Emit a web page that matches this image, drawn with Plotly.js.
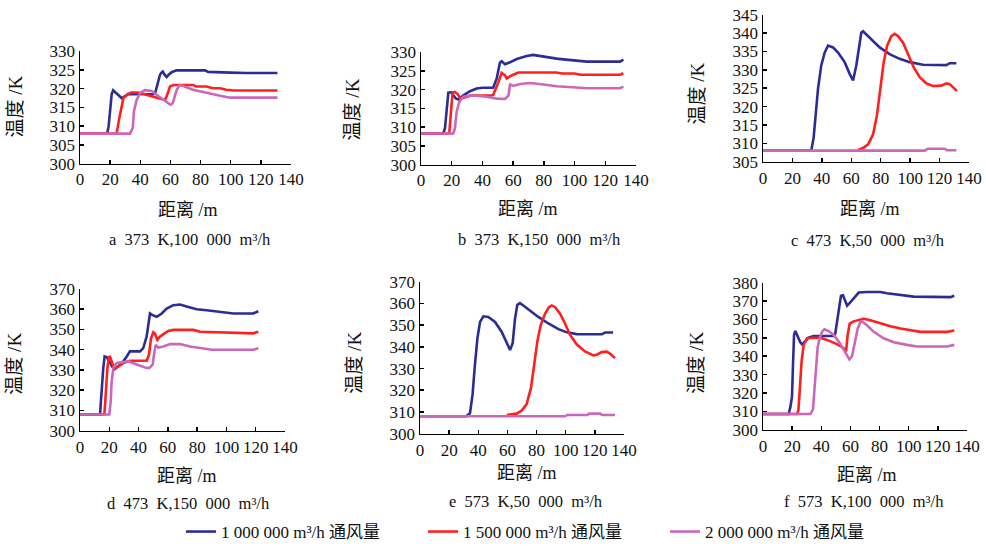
<!DOCTYPE html>
<html>
<head>
<meta charset="utf-8">
<script src="https://cdn.plot.ly/plotly-3.0.1.min.js"></script>
<style>html,body{margin:0;padding:0;background:#fff;}#chart{width:986px;height:550px;}</style>
</head>
<body>
<div id="chart"></div>
<script>
// ---------- data (distance m, temperature K) ----------
var seriesNames = ["1 000 000 m³/h 通风量", "1 500 000 m³/h 通风量", "2 000 000 m³/h 通风量"];
var panelLabels = ["a 373 K,100 000 m³/h", "b 373 K,150 000 m³/h", "c 473 K,50 000 m³/h",
                   "d 473 K,150 000 m³/h", "e 573 K,50 000 m³/h", "f 573 K,100 000 m³/h"];
var xTickVals = [0, 20, 40, 60, 80, 100, 120, 140];

// panel a
var aBlueX = [0,18,19,20,21,22,23,25,27.6,30,32,35,40,45,49,50,51,52,53,53.8,54.9,56,57.5,59,60.8,64,70,83,85,95,100,110,120,131];
var aBlueY = [308,308,310,315,318.5,319.6,319.2,318.3,317.5,318,318.6,318.5,318.5,318.4,318.6,319,320.5,322.3,323.6,324.2,324.6,323.8,323.1,323.8,324.4,324.9,324.9,324.9,324.5,324.5,324.3,324.2,324.2,324.2];
var aRedX = [0,24.3,26,28.8,31,34,37,40,44,48,51,54,56.4,58,59.7,62,70,75,77,84,88,93,97,102,115,131];
var aRedY = [308,308,312,317.5,318.3,319,319,318.9,318.4,318,317.7,317.3,317,318.5,320.6,321,321,321,320.6,320.6,320.1,320.1,319.7,319.5,319.5,319.5];
var aMagX = [0,33.2,35,35.8,37.6,39.8,43,47.6,51,55.3,58.6,60,61.5,63,64.2,66,68.6,75,84,93,99.6,110,131];
var aMagY = [308,308,309.5,314,317,318.8,319.6,319.4,318.3,317,316.1,315.7,316.1,318,319.7,321,320.7,319.7,318.8,318.1,317.6,317.6,317.6];

// panel b
var bBlueX = [0,14.5,15.6,16.7,17.8,20,21,22.8,24.3,27.6,31.9,36.2,40,47,49.3,51.4,52.5,54.7,58,62.3,68.8,73,77.5,81.8,88.3,92.7,101,108,129.6,131.8];
var bBlueY = [308.3,308.3,309.7,315,319.2,319.3,318.5,317.6,317.4,318.5,319.6,320.3,320.5,320.5,323,327.2,327.6,326.8,327.3,328.2,329,329.3,329,328.6,328.3,328.1,327.8,327.5,327.5,328];
var bRedX = [0,18.4,19.5,20.6,22,23.7,25.8,29.7,32,45,47,50.4,52.5,54.7,55.8,59,63.4,88,92,100,104,129.6,131.8];
var bRedY = [308.3,308.3,314,319.2,319.4,318.9,317.6,318,318.4,318.4,318.6,322,324.5,323.8,323,323.8,324.6,324.6,324.3,324.3,324,324,324.4];
var bMagX = [0,21,22.1,23.2,25,27.6,31.9,36,42.8,49.3,54.7,57,58,60,64.5,71,79.7,88.3,101,108,129.6,131.8];
var bMagY = [308.3,308.3,309.7,314.1,316.8,318.1,318.4,318.4,318.1,317.6,317.5,318.5,321.4,321,321.5,321.8,321.4,320.9,320.6,320.4,320.4,320.8];

// panel c
var cBlueX = [0,32.8,34.4,35.8,37.4,39.6,41.9,44.2,47.6,51,55.5,58.9,61.2,63.4,65.2,66.8,68,70.2,74.8,79.3,86,92.9,99.7,108.7,124.6,126.9,131.4];
var cBlueY = [308,308,311.5,317.8,324.9,331.2,334.7,336.6,336.1,334.7,332.1,328.9,327.1,331.2,336.5,340.1,340.5,339.6,337.9,336.1,334.3,333,332.1,331.4,331.3,331.8,331.8];
var cRedX = [64.6,68,71.4,74.8,77.5,79.7,82,84.3,87.2,89.5,91.8,95.2,98.6,102.4,106.5,111,115.5,121.2,124.6,126.9,130.3,131.9];
var cRedY = [308.2,308.7,309.7,312.4,317.8,324.9,332,336.5,339.2,339.8,339.2,337.4,334.3,330.7,328,326.3,325.6,325.7,326.3,326.1,324.8,324.2];
var cMagX = [0,110,112,123.5,125,131.4];
var cMagY = [308,308,308.5,308.5,308.1,308.1];

// panel d
var dBlueX = [0,13.7,14.3,15,15.9,16.8,18.2,19.3,21.2,23.2,26.2,29.6,31.9,34.1,41,43.2,45.5,46.7,47.8,49.6,52.4,55.8,59.2,63.7,68.3,74,79.7,86.5,95.6,104.7,118.4,121.8];
var dBlueY = [308,308,314.7,322.8,330.9,336.6,336.3,335,332.6,330.1,331.7,334.2,336.6,339.1,339.1,340.7,346.4,353.7,357.8,357,356.2,357.8,360.2,361.9,362.2,361,359.9,359.4,358.6,357.8,357.8,358.9];
var dRedX = [0,16.6,17.3,17.8,18.7,19.8,20.5,21.6,22.8,23.9,26.2,29.6,34.1,45.5,47.1,48.5,50.1,51.2,52.8,54.6,57.4,60.3,63.7,77.4,82,93.3,104.7,118.4,121.8];
var dRedY = [308,308,314.7,322.8,330.9,336.3,336.4,334.2,331.7,330.9,331.7,333.4,334.5,334.5,337.4,345.5,348.5,347.8,344.8,346.4,348,349.2,349.7,349.7,348.8,348.5,348,348,348.8];
var dMagX = [0,20,21,21.6,22.8,25,29.6,33,38.7,45.5,47.3,49.6,50.5,51.7,53.5,56.9,61.5,68.3,75.1,82,90,118.4,121.8];
var dMagY = [308,308,314.7,324.4,330.9,333.4,333.9,334.2,332.6,330.9,330.9,332.6,337.4,342.3,341,341.5,342.7,342.7,341.5,340.7,339.9,339.9,340.7];

// panel e
var eBlueX = [0,31.6,34.3,36.1,37.7,39.4,41.2,43.5,46.9,51.5,56,59.5,61.8,63.6,65.2,66.8,68.6,70.9,75.5,81.2,88.1,95,100.7,107.5,124.7,127,132.5];
var eBlueY = [308,308,309.4,318.2,331.8,343.9,351.5,354.1,353.8,351.5,347,341.7,338.6,341.7,353,359.4,360.2,359.1,356.8,353.8,350.8,348.2,346.7,345.9,345.8,346.6,346.6];
var eRedX = [59.5,66.3,69.8,73.2,76.2,78.2,80.5,82.8,85.8,88.5,90.4,92.7,96.1,99.5,103,107.5,113.2,119,121.3,124.7,128.1,130.4,133.8];
var eRedY = [308.6,309.2,310.6,313.6,321.2,331.8,342.4,350,355.3,358.3,359.1,358.3,355.3,350.8,345.5,341.2,337.9,336.1,336.4,337.6,337.8,336.9,334.8];
var eMagX = [0,99.5,101,115,116,123.5,125,133.8];
var eMagY = [308,308,308.6,308.6,309.2,309.2,308.6,308.6];

// panel f
var fBlueX = [0,17.6,18.8,19.9,20.6,21.3,22.2,23.3,25.6,26.8,29,31.3,34.8,48.5,49.6,51.9,53.5,54.9,56.5,57.7,59.9,63.4,65.7,71.4,80.5,85.1,94.3,103.4,128.6,131.3];
var fBlueY = [308.5,308.5,312.4,317.8,335.6,351.6,353.8,351.6,347.6,346.5,348,350.1,351,351,352.4,364,372.9,373.2,370.2,367.6,369.3,372.9,374.7,375,375,374.3,373.4,372.5,372.2,372.9];
var fRedX = [0,23.3,24.3,25.2,26.5,27.9,30.2,34.8,39.4,43.9,50.8,55.4,57,58.1,59.5,62.2,66.8,69.1,73.7,80.5,87.4,94.3,101.1,108,126.3,131.3];
var fRedY = [308.5,308.5,310.5,323.1,337.3,346.2,349.8,350.1,350.1,348.9,346.6,344.4,342.7,351.6,357.8,359,359.9,360.4,359.6,357.8,356.4,355.1,354.2,353.3,353.3,354];
var fMagX = [0,32.5,34.3,35.2,36.4,37.5,38.9,40.5,42.1,45.1,48.5,51.9,55.4,57.7,59.3,61.1,63.4,65,66.8,67.9,71.4,76,82.8,89.7,98.8,105.7,126.3,131.3];
var fMagY = [308.5,308.5,311,319.9,334.2,344.9,349.8,353.3,354.7,353.7,351.6,348,343.6,340,338.2,340,348,355.1,358.7,359,356.9,353.3,349.8,347.6,346.2,345.3,345.3,346.2];

var yRanges = [[300,330],[300,330],[305,345],[300,370],[300,370],[300,380]];
var yDticks = [5,5,5,10,10,10];

// ---------- layout geometry (pixels) ----------
var W = 986, H = 550;
var boxes = [ // [left, right, top, bottom] in px
  [80,291,52,166],[421,636,53,167],[763,969,15,164],
  [80,285,293,437],[420,624,286,440],[763,967,287,436]
];
var colors = ["#2b2d94", "#ff1f1f", "#cc66bb"];
var panels = [
  [[aBlueX,aBlueY],[aRedX,aRedY],[aMagX,aMagY]],
  [[bBlueX,bBlueY],[bRedX,bRedY],[bMagX,bMagY]],
  [[cBlueX,cBlueY],[cRedX,cRedY],[cMagX,cMagY]],
  [[dBlueX,dBlueY],[dRedX,dRedY],[dMagX,dMagY]],
  [[eBlueX,eBlueY],[eRedX,eRedY],[eMagX,eMagY]],
  [[fBlueX,fBlueY],[fRedX,fRedY],[fMagX,fMagY]]
];

var serif = "Liberation Serif, 'Times New Roman', 'Noto Sans CJK SC', serif";
var traces = [];
var layout = {
  width: W, height: H,
  margin: {l:0, r:0, t:0, b:0},
  paper_bgcolor: "#ffffff", plot_bgcolor: "#ffffff",
  showlegend: true,
  legend: {orientation: "h", x: 181/W, xanchor: "left", y: 1-540/H, yanchor: "middle",
           font: {family: serif, size: 17, color: "#111"}, entrywidth: 197, entrywidthmode: "pixels",
           bgcolor: "rgba(0,0,0,0)", itemwidth: 30},
  annotations: []
};

var xTitlePos = [[188,213],[528,212],[870,212],[187,483],[527,480],[867,482]];
var yTitlePos = [[15,108],[352,111],[698,95],[15,369],[355,368],[697,368]];
var subPos = [[190,243],[539,243],[868,244],[188,511],[526,509],[864,509]];

for (var p = 0; p < 6; p++) {
  var b = boxes[p];
  var xa = "xaxis" + (p === 0 ? "" : p+1), ya = "yaxis" + (p === 0 ? "" : p+1);
  var xr = "x" + (p === 0 ? "" : p+1), yr = "y" + (p === 0 ? "" : p+1);
  var axCommon = {showline: true, linecolor: "#000", linewidth: 1.5, ticks: "inside", ticklen: 4,
                  tickwidth: 1.5, tickcolor: "#000", showgrid: false, zeroline: false,
                  tickfont: {family: serif, size: 17, color: "#111"}, fixedrange: true};
  layout[xa] = Object.assign({}, axCommon, {domain: [b[0]/W, b[1]/W], range: [0,140],
                  tickvals: xTickVals, anchor: yr});
  layout[ya] = Object.assign({}, axCommon, {domain: [1-b[3]/H, 1-b[2]/H], range: yRanges[p],
                  dtick: yDticks[p], tick0: yRanges[p][0], anchor: xr});
  for (var s = 0; s < 3; s++) {
    traces.push({x: panels[p][s][0], y: panels[p][s][1], xaxis: xr, yaxis: yr, type: "scatter",
                 mode: "lines", line: {color: colors[s], width: 2.6}, name: seriesNames[s],
                 legendgroup: "s"+s, showlegend: p === 0, hoverinfo: "skip"});
  }
  layout.annotations.push({text: "距离 /m", xref: "paper", yref: "paper", x: xTitlePos[p][0]/W,
      y: 1-xTitlePos[p][1]/H, xanchor: "center", yanchor: "middle", showarrow: false,
      font: {family: serif, size: 18, color: "#111"}});
  layout.annotations.push({text: "温度 /K", xref: "paper", yref: "paper", x: yTitlePos[p][0]/W,
      y: 1-yTitlePos[p][1]/H, xanchor: "center", yanchor: "middle", showarrow: false, textangle: -90,
      font: {family: serif, size: 19, color: "#111"}});
  layout.annotations.push({text: panelLabels[p].replace(/ /g, "\u2002"), xref: "paper", yref: "paper",
      x: subPos[p][0]/W, y: 1-subPos[p][1]/H, xanchor: "center", yanchor: "middle", showarrow: false,
      font: {family: serif, size: 16.5, color: "#111"}});
}

Plotly.newPlot("chart", traces, layout, {displayModeBar: false, staticPlot: true});
</script>
</body>
</html>
